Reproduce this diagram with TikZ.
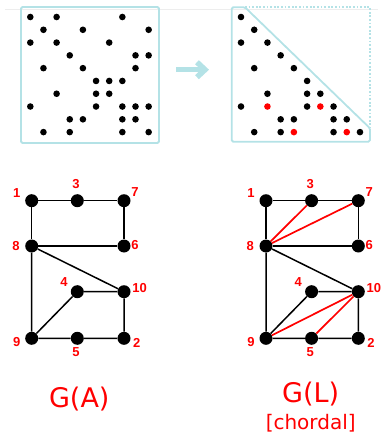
\documentclass[tikz,border=0pt]{standalone}
\usepackage{fontspec}
\setmainfont{Liberation Sans}
\newfontfamily\capfont{DejaVu Sans}
\usetikzlibrary{arrows.meta}
\definecolor{boxcyan}{RGB}{180,226,230}
\tikzset{
    vert/.style={circle,fill=black,inner sep=0pt,minimum size=13pt},
    entry/.style={circle,fill=black,inner sep=0pt,minimum size=6.6pt},
    fillin/.style={entry,fill=red},
    num/.style={text=red,font=\bfseries\fontsize{13}{13}\selectfont},
    edge/.style={line width=1.5pt},
    chord/.style={line width=1.7pt,red},
    boxline/.style={boxcyan,line width=1.8pt},
}
\begin{document}
\begin{tikzpicture}[x=1pt,y=-1pt]
    \useasboundingbox (0,0) rectangle (381,433);
    \draw[black!7,line width=0.6pt] (5,9.7) -- (378,9.7);
    \draw[boxline,rounded corners=1.5pt] (21,7) rectangle (159,143);
    \foreach \r/\c in {1/1,1/3,1/8,2/2,2/5,2/10,3/1,3/3,3/7,4/4,4/9,4/10,5/2,5/5,5/9,
                       6/6,6/7,6/8,7/3,7/6,7/7,8/1,8/6,8/8,8/9,8/10,9/4,9/5,9/8,9/9,
                       10/2,10/4,10/8,10/10}
        \node[entry] (ma-\r-\c) at ({30.3+13.15*(\c-1)},{17+12.79*(\r-1)}) {};
    \coordinate (arrs) at (176,69.7);
    \coordinate (arre) at (209,69.7);
    \draw[boxcyan,line width=5.5pt,-{Straight Barb[length=8pt,width=15pt]}] (arrs) -- (arre);
    \draw[boxline,rounded corners=1.5pt] (245,7.3) -- (231.7,7.3) -- (231.7,141.7) -- (370,141.7) -- (370,128.3) -- cycle;
    \draw[boxline,dash pattern=on 1.7pt off 1.9pt] (245,7.3) -- (370,7.3) -- (370,128.3);
    \foreach \r/\c in {1/1,2/2,3/1,3/3,4/4,5/2,5/5,6/6,7/3,7/6,7/7,8/1,8/6,8/8,
                       9/4,9/5,9/8,9/9,10/2,10/4,10/8,10/10}
        \node[entry] (ml-\r-\c) at ({241+13.22*(\c-1)},{17+12.79*(\r-1)}) {};
    \foreach \r/\c in {8/3,8/7,10/5,10/9}
        \node[fillin] (ml-\r-\c) at ({241+13.22*(\c-1)},{17+12.79*(\r-1)}) {};

    \node[vert] (a1) at (31.7,200.7) {};
    \node[vert] (a3) at (77.3,200.7) {};
    \node[vert] (a7) at (124,200.7) {};
    \node[vert] (a8) at (31.7,246) {};
    \node[vert] (a6) at (124,246) {};
    \node[vert] (a4) at (77.3,291.7) {};
    \node[vert] (a10) at (124,291.7) {};
    \node[vert] (a9) at (31.7,338.3) {};
    \node[vert] (a5) at (77.3,338.3) {};
    \node[vert] (a2) at (124,338.3) {};
    \draw[edge] (a1) -- (a3) -- (a7) -- (a6) -- (a8) -- (a1);
    \draw[edge] (a8) -- (a10) -- (a2) -- (a5) -- (a9) -- (a8);
    \draw[edge] (a9) -- (a4) -- (a10);
    \node[num] (ta1) at (16.7,193.3) {1};
    \node[num] (ta3) at (76,184) {3};
    \node[num] (ta7) at (135,191.7) {7};
    \node[num] (ta8) at (16,246) {8};
    \node[num] (ta6) at (135,245) {6};
    \node[num] (ta4) at (64,282.3) {4};
    \node[num] (ta10) at (139.5,287.7) {10};
    \node[num] (ta9) at (16.7,341.7) {9};
    \node[num] (ta5) at (76,352.3) {5};
    \node[num] (ta2) at (136.7,342.7) {2};

    \begin{scope}[xshift=234.3pt]
        \node[vert] (l1) at (31.7,200.7) {};
        \node[vert] (l3) at (77.3,200.7) {};
        \node[vert] (l7) at (124,200.7) {};
        \node[vert] (l8) at (31.7,246) {};
        \node[vert] (l6) at (124,246) {};
        \node[vert] (l4) at (77.3,291.7) {};
        \node[vert] (l10) at (124,291.7) {};
        \node[vert] (l9) at (31.7,338.3) {};
        \node[vert] (l5) at (77.3,338.3) {};
        \node[vert] (l2) at (124,338.3) {};
        \draw[edge] (l1) -- (l3) -- (l7) -- (l6) -- (l8) -- (l1);
        \draw[edge] (l8) -- (l10) -- (l2) -- (l5) -- (l9) -- (l8);
        \draw[edge] (l9) -- (l4) -- (l10);
        \draw[chord] (l8) -- (l3);
        \draw[chord] (l8) -- (l7);
        \draw[chord] (l10) -- (l9);
        \draw[chord] (l10) -- (l5);
        \node[num] (tl1) at (16.7,193.3) {1};
        \node[num] (tl3) at (76,184) {3};
        \node[num] (tl7) at (135,191.7) {7};
        \node[num] (tl8) at (16,246) {8};
        \node[num] (tl6) at (135,245) {6};
        \node[num] (tl4) at (64,282.3) {4};
        \node[num] (tl10) at (139.5,287.7) {10};
        \node[num] (tl9) at (16.7,341.7) {9};
        \node[num] (tl5) at (76,352.3) {5};
        \node[num] (tl2) at (136.7,342.7) {2};
    \end{scope}

    \node[text=red,font=\capfont\fontsize{27}{27}\selectfont] (capa) at (79.3,399) {G(A)};
    \node[text=red,font=\capfont\fontsize{27}{27}\selectfont] (capl) at (310.7,394) {G(L)};
    \node[text=red,font=\capfont\fontsize{20}{20}\selectfont] (chordal) at (310.7,423.3) {[chordal]};
\end{tikzpicture}
\end{document}
